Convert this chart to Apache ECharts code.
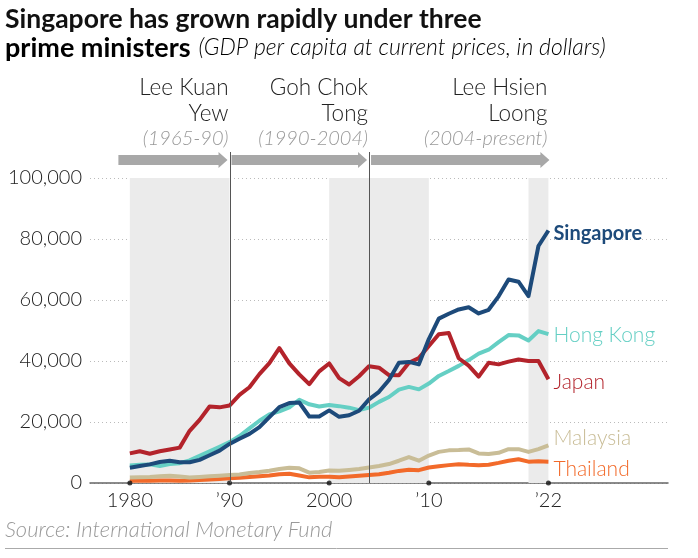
<!DOCTYPE html>
<html><head><meta charset="utf-8">
<script src="https://cdn.jsdelivr.net/npm/echarts@6/dist/echarts.min.js"></script>
<style>html,body{margin:0;padding:0;background:#fff}#c{width:698px;height:558px}</style>
</head><body><div id="c"></div>
<script>
const years = [1980,1981,1982,1983,1984,1985,1986,1987,1988,1989,1990,1991,1992,1993,1994,1995,1996,1997,1998,1999,2000,2001,2002,2003,2004,2005,2006,2007,2008,2009,2010,2011,2012,2013,2014,2015,2016,2017,2018,2019,2020,2021,2022];
const singapore = [5000,5600,6100,6900,7300,6800,6800,7600,9100,10600,12800,14500,16100,18300,21600,24900,26200,26400,21800,21800,23800,21700,22200,23700,27400,29900,33800,39400,39700,38900,47200,53900,55500,56900,57600,55600,56800,61200,66700,66000,61300,77700,82800];
const hongKong = [5700,6000,6100,5600,6200,6500,7400,8900,10400,11900,13400,15400,17900,20400,22500,23500,24800,27300,25800,25100,25600,25200,24700,23900,24700,26600,28200,30600,31500,30700,32600,35100,36700,38400,40300,42400,43700,46200,48500,48400,46700,49800,48800];
const japan = [9700,10400,9600,10400,11000,11600,17100,20700,25100,24800,25400,28900,31400,35700,39300,44200,39200,35600,32400,36600,39200,34400,32300,35000,38300,37800,35400,35300,39400,41000,44900,48800,49200,40900,38500,34900,39400,38900,39800,40500,40000,40000,34000];
const malaysia = [1800,1900,2000,2200,2400,2100,1800,2000,2200,2400,2600,2800,3300,3600,4000,4600,5000,4800,3400,3600,4100,4000,4300,4600,5100,5600,6200,7300,8500,7300,9000,10200,10700,10800,11000,9700,9500,9900,11100,11100,10200,11100,12300];
const thailand = [700,750,770,810,820,750,820,950,1150,1350,1560,1760,1960,2210,2490,2880,3050,2480,1850,2030,2010,1890,2100,2360,2660,2890,3370,3970,4380,4210,5080,5490,5860,6170,5950,5840,5990,6600,7300,7800,7000,7100,7000];

const xTickValues = [1980,1990,2000,2010,2022];
const xTickLabels = ['1980','\u201990','2000','\u201910','\u201922'];
const shadedPeriods = [[1980,1990],[2000,2010],[2020,2022]];
const termBoundaries = [1990,2004];
const terms = [
  {name:['Lee Kuan','Yew'], span:'(1965-90)', start:1979, end:1990},
  {name:['Goh Chok','Tong'], span:'(1990-2004)', start:1990, end:2004},
  {name:['Lee Hsien','Loong'], span:'(2004-present)', start:2004, end:2022}
];
const seriesNames = ['Thailand','Malaysia','Hong Kong','Japan','Singapore'];
const seriesValues = [thailand, malaysia, hongKong, japan, singapore];
const seriesColors = ['#f26a2a','#c9bd97','#65cfc4','#b3232b','#1d4a7a'];
const labelOffsets = [[0,8],[0,-7],[0,1],[0,3],[0,3]];

const FONT = 'Lato';
const chart = echarts.init(document.getElementById('c'), null, {renderer:'canvas'});

const series = seriesNames.map((n,i)=>({
  type:'line', name:n, symbol:'none', smooth:false,
  data: years.map((y,j)=>[y, seriesValues[i][j]]),
  lineStyle:{color:seriesColors[i], width:4, join:'round'},
  itemStyle:{color:seriesColors[i]},
  z: 3+i,
  endLabel:{show:true, formatter:n, color:seriesColors[i], fontFamily:FONT,
    fontSize: n==='Singapore'?20:21, fontWeight: n==='Singapore'?'bold':300, offset:labelOffsets[i], distance:5},
  emphasis:{disabled:true}
}));
series.unshift({
  type:'line', data:[], silent:true,
  markArea:{silent:true, itemStyle:{color:'#ebebeb'},
    data: shadedPeriods.map(p=>[{xAxis:p[0], yAxis:0},{xAxis:p[1], yAxis:100000}])}
});
series.push({
  type:'scatter', data: xTickValues.map(v=>[v,0]), symbolSize:5,
  itemStyle:{color:'#111'}, z:20, silent:true
});

chart.setOption({
  animation:false,
  grid:{left:90, right:30, top:178, bottom:75, containLabel:false},
  xAxis:{type:'value', min:1976, max:2034,
    axisLine:{show:true, lineStyle:{color:'#666', width:1.5}},
    axisTick:{show:false},
    splitLine:{show:false},
    axisLabel:{customValues:xTickValues, formatter:(v)=>xTickLabels[xTickValues.indexOf(v)],
      color:'#222', fontFamily:FONT, fontSize:20, fontWeight:300, margin:8}
  },
  yAxis:{type:'value', min:0, max:100000, interval:20000,
    axisLine:{show:false}, axisTick:{show:false},
    splitLine:{show:true, lineStyle:{color:'#bbb', type:[1,3], width:1}},
    axisLabel:{formatter:(v)=>v.toLocaleString('en-US'), color:'#222', fontFamily:FONT,
      fontSize:20, fontWeight:300, margin:8}
  },
  series: series
});

// annotations
const px = (x,y)=>chart.convertToPixel({gridIndex:0},[x,y]);
const graphics = [];
graphics.push({type:'text', x:5, y:19, style:{text:'Singapore has grown rapidly under three', font:'bold 26.5px '+FONT, fill:'#111', verticalAlign:'middle'}});
graphics.push({type:'text', x:5, y:48, style:{text:'{b|prime ministers}{sp| }{s|(GDP per capita at current prices, in dollars)}', verticalAlign:'middle',
  rich:{b:{fontSize:27, fontWeight:'bold', fontFamily:FONT, color:'#111'},
        sp:{fontSize:27, fontFamily:FONT, width:8},
        s:{fontSize:23, fontStyle:'italic', fontWeight:300, fontFamily:FONT, color:'#999'}}}});
const yAxisPx = px(0,0)[1];
termBoundaries.forEach(b=>{
  const x = Math.round(px(b,0)[0])+0.5;
  graphics.push({type:'line', shape:{x1:x, y1:152, x2:x, y2:yAxisPx}, style:{stroke:'#555', lineWidth:1}, z:50});
});
terms.forEach((t,i)=>{
  const x1 = px(t.start,0)[0] + (i===0? -1.5 : 2);
  const x2 = px(t.end,0)[0] - (i===2? -1 : 2);
  const yc = 160;
  graphics.push({type:'polygon', shape:{points:[[x1,yc-5],[x2-9,yc-5],[x2-9,yc-8],[x2,yc],[x2-9,yc+8],[x2-9,yc+5],[x1,yc+5]]},
    style:{fill:'#a8a8a8'}, z:40});
  const rx = px(t.end,0)[0] - 1;
  graphics.push({type:'text', x:rx, y:88, style:{text:t.name[0], align:'right', verticalAlign:'middle', font:'300 22.5px '+FONT, fill:'#222'}});
  graphics.push({type:'text', x:rx, y:114, style:{text:t.name[1], align:'right', verticalAlign:'middle', font:'300 22.5px '+FONT, fill:'#222'}});
  graphics.push({type:'text', x:rx, y:139, style:{text:t.span, align:'right', verticalAlign:'middle', font:'italic 300 20px '+FONT, fill:'#999'}});
});
graphics.push({type:'text', x:5, y:530, style:{text:'Source: International Monetary Fund', font:'italic 300 22px '+FONT, fill:'#999', verticalAlign:'middle'}});
graphics.push({type:'line', shape:{x1:5, y1:548.5, x2:668, y2:548.5}, style:{stroke:'#aaa', lineWidth:1}});
chart.setOption({graphic:graphics});
</script></body></html>
